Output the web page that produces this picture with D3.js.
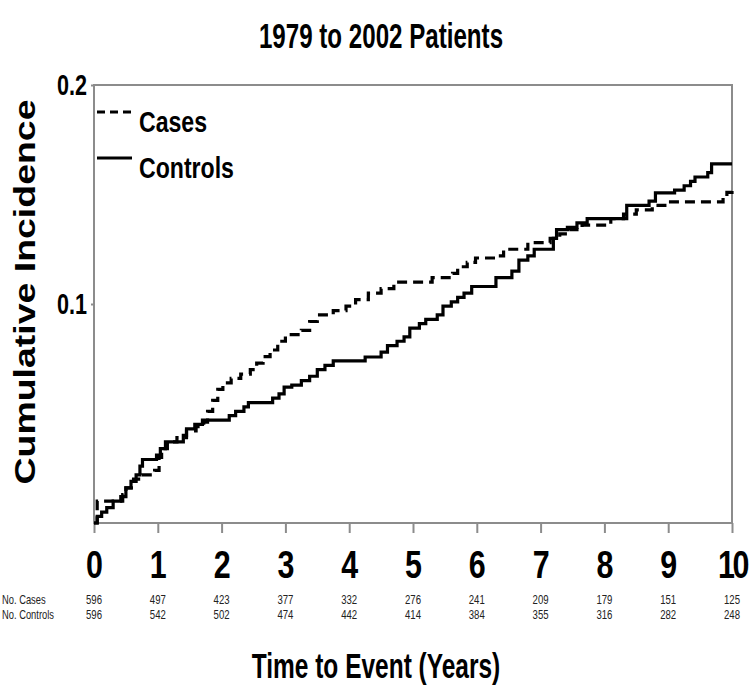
<!DOCTYPE html>
<html>
<head>
<meta charset="utf-8">
<script src="https://cdn.jsdelivr.net/npm/d3@7"></script>
<style>
  html, body { margin: 0; padding: 0; background: #fff; }
  svg { display: block; }
  text { font-family: "Liberation Sans", Arial, sans-serif; }
</style>
</head>
<body>
<svg id="chart" width="750" height="693"></svg>
<script>
// ── data ──
const years = [0, 1, 2, 3, 4, 5, 6, 7, 8, 9, 10];
const yTicks = [0.1, 0.2];
const nCases    = [596, 497, 423, 377, 332, 276, 241, 209, 179, 151, 125];
const nControls = [596, 542, 502, 474, 442, 414, 384, 355, 316, 282, 248];

// [years, cumulative incidence] – step points
const casesCurve = [
  [0,0],[0.05,0.010],[0.45,0.013],[0.5,0.016],[0.62,0.020],[0.75,0.022],[0.95,0.024],
  [1.02,0.030],[1.06,0.034],[1.15,0.037],[1.3,0.039],[1.45,0.042],[1.6,0.044],[1.72,0.046],
  [1.78,0.051],[1.86,0.056],[1.94,0.061],[2.02,0.064],[2.15,0.066],[2.3,0.068],[2.45,0.070],
  [2.55,0.073],[2.65,0.076],[2.76,0.079],[2.88,0.083],[3.0,0.086],[3.25,0.088],[3.38,0.092],
  [3.5,0.095],[3.75,0.097],[3.95,0.099],[4.1,0.102],[4.3,0.105],[4.5,0.107],[4.7,0.110],
  [5.3,0.112],[5.62,0.114],[5.7,0.117],[5.85,0.119],[5.98,0.121],[6.3,0.122],[6.42,0.125],
  [6.8,0.128],[7.15,0.130],[7.3,0.132],[7.45,0.134],[7.65,0.136],[8.1,0.139],[8.3,0.141],
  [8.5,0.143],[8.75,0.145],[9.0,0.1466],[9.86,0.149],[9.92,0.151],[10,0.152]
];
const controlsCurve = [
  [0,0],[0.05,0.003],[0.12,0.005],[0.2,0.007],[0.3,0.010],[0.42,0.012],[0.5,0.016],
  [0.58,0.019],[0.66,0.022],[0.72,0.026],[0.76,0.029],[0.98,0.031],[1.04,0.034],[1.12,0.037],
  [1.4,0.040],[1.45,0.043],[1.58,0.045],[1.7,0.047],[2.12,0.049],[2.22,0.051],[2.35,0.053],
  [2.42,0.055],[2.8,0.057],[2.9,0.059],[2.98,0.062],[3.1,0.063],[3.25,0.065],[3.38,0.067],
  [3.5,0.070],[3.62,0.072],[3.75,0.074],[4.25,0.0758],[4.5,0.078],[4.6,0.081],[4.75,0.083],
  [4.86,0.085],[4.95,0.089],[5.1,0.091],[5.2,0.093],[5.38,0.095],[5.47,0.099],[5.6,0.101],
  [5.7,0.103],[5.8,0.105],[5.92,0.108],[6.3,0.112],[6.55,0.115],[6.66,0.120],[6.8,0.122],
  [6.9,0.125],[7.2,0.130],[7.25,0.134],[7.42,0.135],[7.57,0.137],[7.73,0.139],[8.35,0.145],
  [8.7,0.147],[8.8,0.1507],[9.1,0.152],[9.25,0.154],[9.35,0.156],[9.42,0.158],[9.62,0.160],
  [9.68,0.164],[10,0.164]
];

const svg = d3.select('#chart');
const L = 94, R = 732, T = 85, B = 523;
const axisCol = '#8c8c8c';

const x = d3.scaleLinear().domain([0, 10]).range([L, R]);
const y = d3.scaleLinear().domain([0, 0.2]).range([B, T]);

// condensed look: squeeze horizontally around the text's own x
function squeeze(sel, k) {
  sel.attr('transform', function () {
    const tx = +this.getAttribute('x') || 0;
    return `translate(${tx},0) scale(${k},1) translate(${-tx},0)`;
  });
}

// title
svg.append('text')
  .attr('x', 381).attr('y', 48)
  .attr('text-anchor', 'middle')
  .attr('font-size', 35).attr('font-weight', 'bold')
  .text('1979 to 2002 Patients')
  .call(squeeze, 0.69);

// frame
svg.append('rect')
  .attr('x', L).attr('y', T).attr('width', R - L).attr('height', B - T)
  .attr('fill', 'none').attr('stroke', axisCol).attr('stroke-width', 2);

// x axis
const xAxis = svg.append('g').attr('transform', `translate(0,${B})`)
  .call(d3.axisBottom(x).tickValues(years).tickSize(10).tickSizeOuter(0).tickPadding(17));
xAxis.select('.domain').remove();
xAxis.selectAll('line').attr('stroke', axisCol).attr('stroke-width', 2);
xAxis.selectAll('text')
  .attr('font-size', 39).attr('font-weight', 'bold').attr('fill', '#000')
  .attr('letter-spacing', d => d >= 10 ? -3 : 0)
  .call(squeeze, 0.78);

// y axis
const yAxis = svg.append('g').attr('transform', `translate(${L},0)`)
  .call(d3.axisLeft(y).tickValues(yTicks).tickSize(3).tickPadding(4).tickFormat(d3.format('.1f')));
yAxis.select('.domain').remove();
yAxis.selectAll('line').attr('stroke', axisCol).attr('stroke-width', 2);
yAxis.selectAll('text')
  .attr('font-size', 30).attr('font-weight', 'bold').attr('fill', '#000')
  .call(squeeze, 0.72);

// y label
svg.append('text')
  .attr('transform', 'translate(35,292) rotate(-90)')
  .attr('text-anchor', 'middle')
  .attr('font-size', 30).attr('font-weight', 'bold')
  .attr('textLength', 385).attr('lengthAdjust', 'spacingAndGlyphs')
  .text('Cumulative  Incidence');

// curves
const line = d3.line().x(d => x(d[0])).y(d => y(d[1])).curve(d3.curveStepAfter);
svg.append('path').datum(controlsCurve)
  .attr('d', line).attr('fill', 'none').attr('stroke', '#000').attr('stroke-width', 3.2);
svg.append('path').datum(casesCurve)
  .attr('d', line).attr('fill', 'none').attr('stroke', '#000').attr('stroke-width', 3.2)
  .attr('stroke-dasharray', '10,6');

// legend
const legend = [
  { label: 'Cases', dash: '8,5', yy: 112 },
  { label: 'Controls', dash: null, yy: 158 }
];
legend.forEach(d => {
  svg.append('line')
    .attr('x1', 97).attr('x2', 132).attr('y1', d.yy).attr('y2', d.yy)
    .attr('stroke', '#000').attr('stroke-width', 3.2)
    .attr('stroke-dasharray', d.dash);
  svg.append('text')
    .attr('x', 139).attr('y', d.yy + 20)
    .attr('font-size', 30).attr('font-weight', 'bold')
    .text(d.label)
    .call(squeeze, 0.77);
});

// at-risk table
const rows = [['No. Cases', nCases, 604], ['No. Controls', nControls, 619]];
rows.forEach(([name, vals, yy]) => {
  svg.append('text')
    .attr('x', 2).attr('y', yy).attr('font-size', 12).attr('fill', '#222')
    .text(name)
    .call(squeeze, 0.78);
  svg.selectAll(null).data(vals).enter().append('text')
    .attr('x', (d, i) => x(years[i])).attr('y', yy)
    .attr('text-anchor', 'middle').attr('font-size', 12).attr('fill', '#222')
    .text(d => d)
    .call(squeeze, 0.8);
});

// x label
svg.append('text')
  .attr('x', 376).attr('y', 678)
  .attr('text-anchor', 'middle')
  .attr('font-size', 35).attr('font-weight', 'bold')
  .text('Time to Event (Years)')
  .call(squeeze, 0.7);
</script>
</body>
</html>
